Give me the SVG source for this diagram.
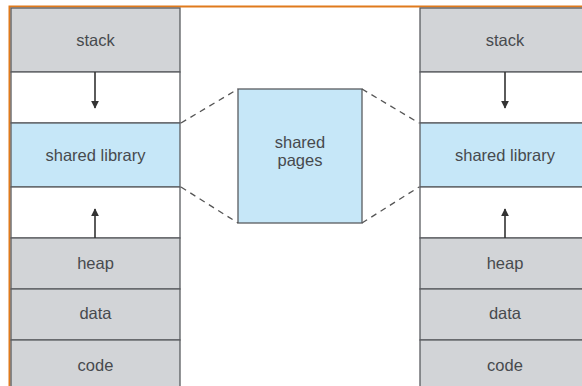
<svg xmlns="http://www.w3.org/2000/svg" width="582" height="386" viewBox="0 0 582 386">
  <style>
    .seg { stroke: #5a5c60; stroke-width: 1.3; }
    .gray { fill: #d2d4d7; }
    .blue { fill: #c6e7f8; }
    .white { fill: #ffffff; }
    .lbl { font-family: "Liberation Sans", Arial, sans-serif; font-size: 16.5px; fill: #474a4e; text-anchor: middle; dominant-baseline: central; }
    .dash { stroke: #555; stroke-width: 1.3; stroke-dasharray: 6 5; fill: none; }
    .arr { stroke: #333; stroke-width: 1.6; fill: none; }
  </style>
  <defs>
    <marker id="ah" viewBox="0 0 10 10" refX="9" refY="5" markerWidth="8" markerHeight="8" orient="auto" markerUnits="userSpaceOnUse">
      <path d="M0,0 L10,5 L0,10 z" fill="#333"/>
    </marker>
  </defs>

  <rect width="582" height="386" fill="#ffffff"/>
  <!-- outer frame -->
  <rect x="9.5" y="6.5" width="590" height="400" fill="none" stroke="#e07a1c" stroke-width="2"/>

  <!-- left address space -->
  <g id="left-space">
    <g id="left-stack"><rect class="seg gray" x="11" y="8" width="169" height="64"/><text class="lbl" x="95.5" y="40">stack</text></g>
    <g id="left-gap1"><rect class="seg white" x="11" y="72" width="169" height="51"/></g>
    <g id="left-shared"><rect class="seg blue" x="11" y="123" width="169" height="64"/><text class="lbl" x="95.5" y="155">shared library</text></g>
    <g id="left-gap2"><rect class="seg white" x="11" y="187" width="169" height="51"/></g>
    <g id="left-heap"><rect class="seg gray" x="11" y="238" width="169" height="51"/><text class="lbl" x="95.5" y="263">heap</text></g>
    <g id="left-data"><rect class="seg gray" x="11" y="289" width="169" height="51"/><text class="lbl" x="95.5" y="313">data</text></g>
    <g id="left-code"><rect class="seg gray" x="11" y="340" width="169" height="60"/><text class="lbl" x="95.5" y="365">code</text></g>
  </g>

  <!-- right address space -->
  <g id="right-space">
    <g id="right-stack"><rect class="seg gray" x="420" y="8" width="170" height="64"/><text class="lbl" x="505" y="40">stack</text></g>
    <g id="right-gap1"><rect class="seg white" x="420" y="72" width="170" height="51"/></g>
    <g id="right-shared"><rect class="seg blue" x="420" y="123" width="170" height="64"/><text class="lbl" x="505" y="155">shared library</text></g>
    <g id="right-gap2"><rect class="seg white" x="420" y="187" width="170" height="51"/></g>
    <g id="right-heap"><rect class="seg gray" x="420" y="238" width="170" height="51"/><text class="lbl" x="505" y="263">heap</text></g>
    <g id="right-data"><rect class="seg gray" x="420" y="289" width="170" height="51"/><text class="lbl" x="505" y="313">data</text></g>
    <g id="right-code"><rect class="seg gray" x="420" y="340" width="170" height="60"/><text class="lbl" x="505" y="365">code</text></g>
  </g>

  <!-- physical shared pages -->
  <g id="shared-pages">
    <rect class="seg blue" x="238" y="89" width="124" height="134"/>
    <text class="lbl" x="300" y="142">shared</text>
    <text class="lbl" x="300" y="160">pages</text>
  </g>

  <!-- connectors -->
  <g id="connectors">
    <line class="dash" x1="181" y1="123" x2="238" y2="89"/>
    <line class="dash" x1="181" y1="187" x2="238" y2="223"/>
    <line class="dash" x1="362" y1="89" x2="419" y2="123"/>
    <line class="dash" x1="362" y1="223" x2="419" y2="187"/>
    <line class="arr" x1="95" y1="72" x2="95" y2="108" marker-end="url(#ah)"/>
    <line class="arr" x1="95" y1="238" x2="95" y2="209" marker-end="url(#ah)"/>
    <line class="arr" x1="505" y1="72" x2="505" y2="108" marker-end="url(#ah)"/>
    <line class="arr" x1="505" y1="238" x2="505" y2="209" marker-end="url(#ah)"/>
  </g>
</svg>
